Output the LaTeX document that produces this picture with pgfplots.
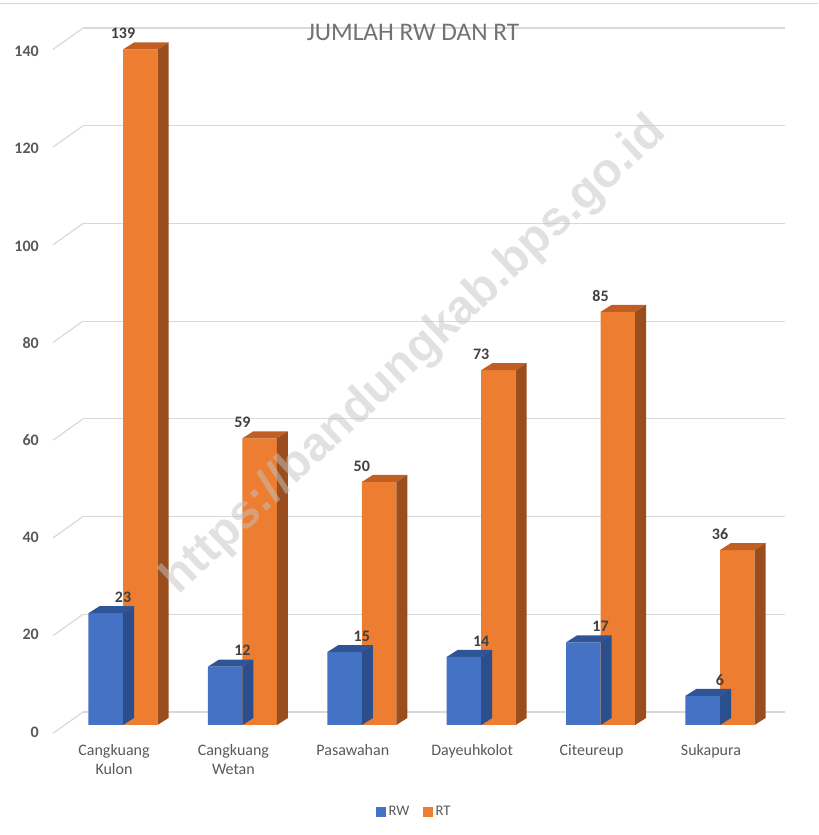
\documentclass[border=0pt]{standalone}
\usepackage{pgfplots}
\usepackage{pgfplotstable}
\pgfplotsset{compat=1.18}
\usepackage{fontspec}
\setmainfont{Carlito}
\newfontfamily\wmfont{Liberation Sans}

\definecolor{rwfront}{HTML}{4472C4}
\definecolor{rwtop}{HTML}{2F5597}
\definecolor{rwside}{HTML}{2B4E8C}
\definecolor{rtfront}{HTML}{ED7D31}
\definecolor{rttop}{HTML}{C05E24}
\definecolor{rtside}{HTML}{9A4E1E}
\definecolor{txt}{HTML}{595959}
\definecolor{lbl}{HTML}{404040}
\definecolor{gridc}{HTML}{D9D9D9}
\definecolor{wm}{HTML}{C4C4C4}

% jumlah RW dan RT per desa
\pgfplotstableread{
x  rw  rt
0  23  139
1  12  59
2  15  50
3  14  73
4  17  85
5  6   36
}\datatable

% sisi atas dan samping batang (efek 3D), digambar di titik data
\pgfplotsset{
  depth/.style n args={3}{
    scatter, only marks, mark=*, mark size=0pt, forget plot,
    visualization depends on={rawy \as \barv},
    scatter/@pre marker code/.code={%
      \pgfmathsetlengthmacro\barh{\barv*3.645pt}%
      \begin{pgfscope}
        \pgfpathmoveto{\pgfpoint{#3}{0pt}}%
        \pgfpathlineto{\pgfpoint{#3+8.25pt}{5.25pt}}%
        \pgfpathlineto{\pgfpoint{#3+34.15pt}{5.25pt}}%
        \pgfpathlineto{\pgfpoint{#3+25.9pt}{0pt}}%
        \pgfpathclose
        \pgfsetfillcolor{#1}\pgfusepath{fill}%
        \pgfpathmoveto{\pgfpoint{#3+25.9pt}{0pt}}%
        \pgfpathlineto{\pgfpoint{#3+34.15pt}{5.25pt}}%
        \pgfpathlineto{\pgfpoint{#3+34.15pt}{5.25pt-\barh}}%
        \pgfpathlineto{\pgfpoint{#3+25.9pt}{-\barh}}%
        \pgfpathclose
        \pgfsetfillcolor{#2}\pgfusepath{fill}%
      \end{pgfscope}
    },
    scatter/@post marker code/.code={},
  },
}

\begin{document}
\begin{tikzpicture}
\path[use as bounding box] (0,0) rectangle (613.5pt,626.25pt);
\draw[gridc, line width=0.75pt] (0,623.25pt) -- (613.5pt,623.25pt);

% dinding belakang: garis grid
\begin{axis}[
  at={(62.25pt,92.25pt)}, anchor=south west,
  x=526.5pt, y=3.664pt, xmin=0, xmax=1, ymin=0, ymax=140,
  clip=false,
  axis line style={draw=none}, tick style={draw=none},
  xtick=\empty, ytick={0,20,...,140}, yticklabels={},
  ymajorgrids, grid style={gridc, line width=0.9pt},
]
\pgfplotsinvokeforeach{0,20,40,60,80,100,120,140}{
  \draw[gridc, line width=0.9pt] (axis cs:0,#1) -- ++(-22.5pt,-16pt);
}
\end{axis}

% batang
\begin{axis}[
  at={(47.475pt,82.5pt)}, anchor=south west,
  x=89.55pt, y=3.645pt,
  xmin=-0.5, xmax=5.5, ymin=0, ymax=140,
  clip=false,
  axis line style={draw=none}, tick style={draw=none}, major tick length=0pt,
  xtick={0,...,5},
  xticklabels={{Cangkuang\\Kulon},{Cangkuang\\Wetan},Pasawahan,Dayeuhkolot,Citeureup,Sukapura},
  xticklabel style={align=center, anchor=north, inner sep=0pt, xshift=-6.75pt, yshift=-14.5pt,
    font=\fontsize{12}{14.25}\selectfont, text=txt},
  ytick={0,20,...,140},
  yticklabel style={anchor=east, inner sep=0pt, xshift=-18.2pt, yshift=-5.25pt,
    font=\fontsize{12}{14}\selectfont\bfseries, text=txt},
  /pgf/number format/assume math mode=true,
  legend style={at={(0.4903,-0.1279)}, anchor=center, draw=none, fill=none,
    legend columns=2, font=\fontsize{11}{13}\selectfont, text=txt,
    /tikz/every even column/.append style={column sep=8pt}},
  legend image code/.code={\fill[#1,draw=none] (0pt,-3.75pt) rectangle (7.5pt,3.75pt);},
  nodes near coords style={font=\fontsize{12}{14}\selectfont\bfseries, text=lbl,
    anchor=center, yshift=12pt},
]
\addplot[depth={rwtop}{rwside}{-25.9pt}] table[x=x,y=rw]{\datatable};
\addplot[ybar, bar width=25.9pt, bar shift=-12.95pt, fill=rwfront, draw=none,
  nodes near coords] table[x=x,y=rw]{\datatable};
\addlegendentry{RW}
\addplot[depth={rttop}{rtside}{0pt}] table[x=x,y=rt]{\datatable};
\addplot[ybar, bar width=25.9pt, bar shift=12.95pt, fill=rtfront, draw=none,
  nodes near coords] table[x=x,y=rt]{\datatable};
\addlegendentry{RT}
\end{axis}

\node[text=txt!85!white, font=\fontsize{19}{22}\selectfont] at (309.75pt,602.25pt) {JUMLAH RW DAN RT};

\node[rotate=43.3, anchor=base, text=wm, text opacity=0.5,
  font=\wmfont\bfseries\fontsize{36}{40}\selectfont] at (317.25pt,352.5pt) {https://bandungkab.bps.go.id};
\end{tikzpicture}
\end{document}
